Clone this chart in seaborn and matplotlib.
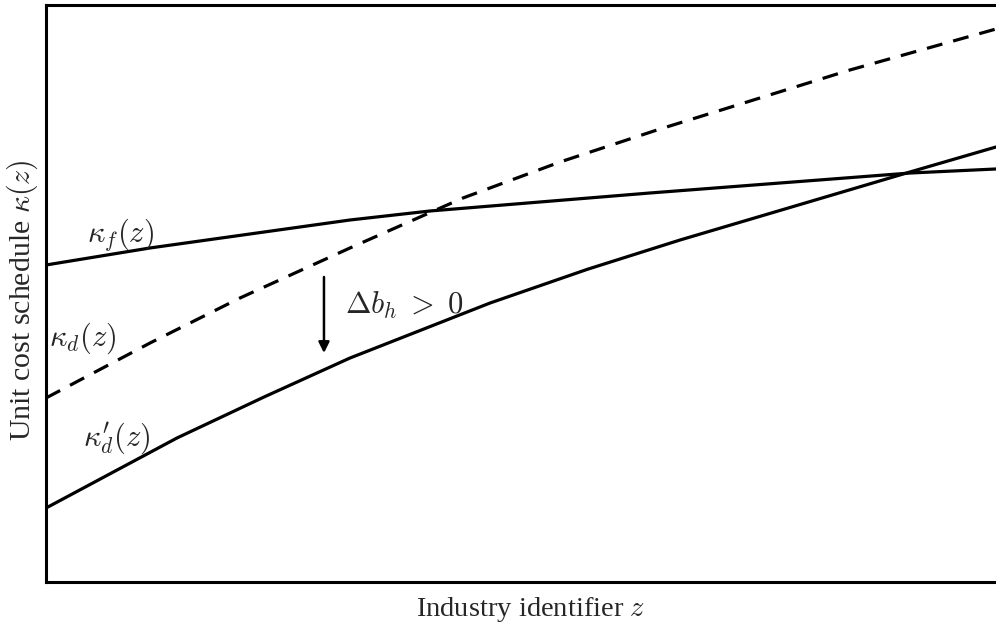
import matplotlib
matplotlib.use("Agg")
import matplotlib.pyplot as plt
import seaborn as sns

sns.set_theme(style="white")
plt.rcParams["font.family"] = ["Liberation Serif", "DejaVu Serif"]
plt.rcParams["mathtext.fontset"] = "cm"

# Data (x: industry identifier, y: unit cost)
kf_x = [0.0, 1.095, 3.2, 4.042, 6.358, 9.095, 10.0]
kf_y = [5.494, 5.789, 6.274, 6.430, 6.742, 7.088, 7.158]

kd_x = [0.0, 1.095, 2.042, 3.2, 4.389, 5.411, 6.432, 8.463, 10.0]
kd_y = [3.189, 4.142, 4.922, 5.789, 6.655, 7.279, 7.834, 8.874, 9.584]

kdp_x = [0.0, 1.379, 2.3, 3.2, 4.674, 5.7, 6.674, 9.095, 10.0]
kdp_y = [1.282, 2.496, 3.21, 3.882, 4.835, 5.42, 5.927, 7.106, 7.539]

fig = plt.figure(figsize=(9.96, 6.29), dpi=100)
ax = fig.add_axes([46/996, 47/629, 950/996, 577/629])

sns.lineplot(x=kf_x, y=kf_y, ax=ax, color="black", lw=2.3)
sns.lineplot(x=kd_x, y=kd_y, ax=ax, color="black", lw=2.3, linestyle=(0, (5, 3.5)))
sns.lineplot(x=kdp_x, y=kdp_y, ax=ax, color="black", lw=2.3)

ax.set_xlim(0, 10)
ax.set_ylim(0, 10)
ax.set_xticks([])
ax.set_yticks([])
for side in ["left", "top", "bottom"]:
    ax.spines[side].set_linewidth(2.2)
    ax.spines[side].set_color("black")
ax.spines["right"].set_visible(False)

ax.set_xlabel("Industry identifier $z$", fontsize=20.5)
ax.set_ylabel("Unit cost schedule $\\kappa(z)$", fontsize=21.5)
ax.xaxis.label.set_va("center")
ax.xaxis.set_label_coords(0.5105, -0.0485, transform=ax.transAxes)
ax.yaxis.label.set_va("center")
ax.yaxis.set_label_coords(-0.0253, 0.489, transform=ax.transAxes)

ax.text(0.779, 6.014, "$\\kappa_f(z)$", fontsize=22, ha="center", va="center")
ax.text(0.389, 4.229, "$\\kappa_d(z)$", fontsize=22, ha="center", va="center")
ax.text(0.747, 2.496, "$\\kappa_d'(z)$", fontsize=22, ha="center", va="center")
ax.text(3.147, 4.801, "$\\Delta b_h\\;>\\;0$", fontsize=22, ha="left", va="center")
ax.annotate("", xy=(2.926, 3.969), xytext=(2.926, 5.286),
            arrowprops=dict(arrowstyle="-|>", color="black", lw=1.8,
                            mutation_scale=16, shrinkA=0, shrinkB=0))

fig.savefig("out.png", dpi=100)
